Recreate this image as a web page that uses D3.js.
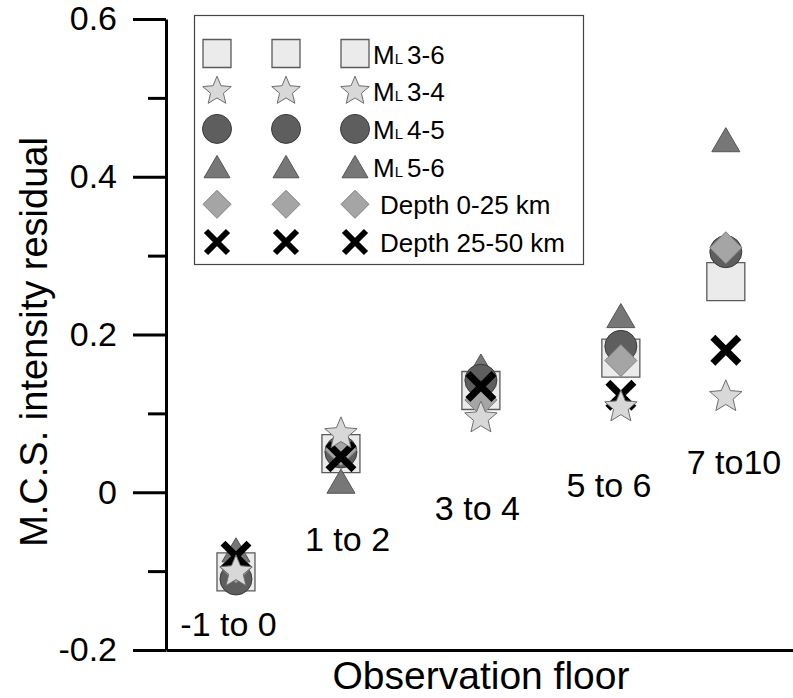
<!DOCTYPE html>
<html>
<head>
<meta charset="utf-8">
<script src="https://cdn.jsdelivr.net/npm/d3@7"></script>
<style>
  body { margin: 0; background: #fff; }
  text { font-family: "Liberation Sans", Arial, sans-serif; fill: #000; }
</style>
</head>
<body>
<div id="chart"></div>
<script>
// observation floor groups and where they sit on the x scale
const floors = ["-1 to 0", "1 to 2", "3 to 4", "5 to 6", "7 to10"];
const floorPos = [0.75, 1.5, 2.5, 3.5, 4.25];
const labelPos = [0.697, 1.547, 2.475, 3.415, 4.308];
const labelY = [-0.182, -0.075, -0.035, -0.006, 0.023];

// M.C.S. intensity residual per group
const ml36 = [-0.101, 0.049, 0.129, 0.170, 0.267];
const ml34 = [-0.101, 0.074, 0.094, 0.108, 0.121];
const ml45 = [-0.110, 0.051, 0.142, 0.185, 0.305];
const ml56 = [-0.073, 0.014, 0.160, 0.224, 0.447];
const depth025 = [-0.095, 0.054, 0.117, 0.167, 0.310];
const depth2550 = [-0.081, 0.045, 0.134, 0.123, 0.180];

const yTicks = [-0.2, 0, 0.2, 0.4, 0.6];
const yTickLabels = ["-0.2", "0", "0.2", "0.4", "0.6"];
const yMinor = [-0.1, 0.1, 0.3, 0.5];

const width = 793, height = 698;

const x = d3.scaleLinear().domain([0.25, 4.73]).range([166, 793]);
const y = d3.scaleLinear().domain([-0.2, 0.6]).range([650, 19]);

// symbol shapes, size = half width in px
const sq = { draw(c, r) { c.rect(-r, -r, 2 * r, 2 * r); } };
const circ = { draw(c, r) { c.moveTo(r, 0); c.arc(0, 0, r, 0, 2 * Math.PI); } };
const dia = { draw(c, r) { c.moveTo(0, -r); c.lineTo(r, 0); c.lineTo(0, r); c.lineTo(-r, 0); c.closePath(); } };
const tri = { draw(c, r) { const h = r * 0.86; c.moveTo(0, -h); c.lineTo(r, h); c.lineTo(-r, h); c.closePath(); } };
const star = { draw(c, r) {
  const ri = r * 0.45;
  for (let i = 0; i < 10; i++) {
    const a = -Math.PI / 2 + i * Math.PI / 5, rr = i % 2 ? ri : r;
    i ? c.lineTo(rr * Math.cos(a), rr * Math.sin(a)) : c.moveTo(rr * Math.cos(a), rr * Math.sin(a));
  }
  c.closePath();
} };
const cross = { draw(c, r) { c.moveTo(-r, -r); c.lineTo(r, r); c.moveTo(r, -r); c.lineTo(-r, r); } };

const series = [
  { key: "ml36", label: ["3-6"], vals: ml36, type: sq, r: 19, rl: 14, fill: "#ebebeb", stroke: "#5a5a5a", sw: 1.3 },
  { key: "ml34", label: ["3-4"], vals: ml34, type: star, r: 17, rl: 15, fill: "#d8d8d8", stroke: "#6e6e6e", sw: 1 },
  { key: "ml45", label: ["4-5"], vals: ml45, type: circ, r: 16, rl: 14.5, fill: "#5e5e5e", stroke: "#3a3a3a", sw: 1 },
  { key: "ml56", label: ["5-6"], vals: ml56, type: tri, r: 14, rl: 13, fill: "#777777", stroke: "#555", sw: 1 },
  { key: "d025", label: "Depth 0-25 km", vals: depth025, type: dia, r: 16, rl: 14, fill: "#a5a5a5", stroke: "#808080", sw: 1 },
  { key: "d2550", label: "Depth 25-50 km", vals: depth2550, type: cross, r: 13, rl: 11, fill: "none", stroke: "#000", sw: 7 }
];
const drawOrder = ["ml36", "ml56", "ml45", "d025", "d2550", "ml34"];

const svg = d3.select("#chart").append("svg")
  .attr("width", width).attr("height", height)
  .attr("viewBox", [0, 0, width, height]);

// y axis: minor then major ticks
svg.append("g")
  .attr("transform", `translate(${x.range()[0]},0)`)
  .call(d3.axisLeft(y).tickValues(yMinor).tickSize(18).tickFormat(""))
  .call(g => g.select(".domain").remove())
  .call(g => g.selectAll("line").attr("stroke", "#000").attr("stroke-width", 3));

svg.append("g")
  .attr("transform", `translate(${x.range()[0]},0)`)
  .call(d3.axisLeft(y).tickValues(yTicks).tickSize(33).tickSizeOuter(0).tickPadding(16)
    .tickFormat((d, i) => yTickLabels[i]))
  .call(g => g.select(".domain").attr("stroke", "#000").attr("stroke-width", 3))
  .call(g => g.selectAll("line").attr("stroke", "#000").attr("stroke-width", 3))
  .call(g => g.selectAll("text").attr("font-size", 34).attr("font-family", null).attr("fill", "#000"));

// x axis line, no ticks
svg.append("g")
  .attr("transform", `translate(0,${y.range()[0]})`)
  .call(d3.axisBottom(x).tickValues([]).tickSizeOuter(0))
  .call(g => g.select(".domain").attr("stroke", "#000").attr("stroke-width", 3));

// axis titles
svg.append("text")
  .attr("x", 481).attr("y", 689)
  .attr("text-anchor", "middle").attr("font-size", 39)
  .text("Observation floor");

svg.append("text")
  .attr("transform", `translate(47,342) rotate(-90)`)
  .attr("text-anchor", "middle").attr("font-size", 38)
  .text("M.C.S. intensity residual");

// group labels
svg.append("g").selectAll("text")
  .data(floors)
  .join("text")
  .attr("x", (d, i) => x(labelPos[i]))
  .attr("y", (d, i) => y(labelY[i]))
  .attr("text-anchor", "middle").attr("font-size", 34)
  .text(d => d);

// points
const byKey = Object.fromEntries(series.map(s => [s.key, s]));
drawOrder.forEach(k => {
  const s = byKey[k];
  svg.append("g").attr("class", "series-" + k)
    .selectAll("path")
    .data(s.vals)
    .join("path")
    .attr("transform", (d, i) => `translate(${x(floorPos[i])},${y(d)})`)
    .attr("d", d3.symbol(s.type, s.r))
    .attr("fill", s.fill)
    .attr("stroke", s.stroke)
    .attr("stroke-width", s.sw);
});

// legend
const legend = svg.append("g");
legend.append("rect")
  .attr("x", 194.5).attr("y", 15.5).attr("width", 389).attr("height", 249)
  .attr("fill", "#fff").attr("stroke", "#444").attr("stroke-width", 1.2);

const cols = [217, 286, 355];
const rowY = d3.scaleLinear().domain([0, 5]).range([53.5, 242]);
const legendOrder = ["ml36", "ml34", "ml45", "ml56", "d025", "d2550"];
legendOrder.forEach((k, i) => {
  const s = byKey[k];
  const cy = rowY(i);
  cols.forEach(cx => {
    legend.append("path")
      .attr("transform", `translate(${cx},${cy})`)
      .attr("d", d3.symbol(s.type, s.rl))
      .attr("fill", s.fill)
      .attr("stroke", s.stroke)
      .attr("stroke-width", k === "d2550" ? 6 : s.sw);
  });
  const t = legend.append("text")
    .attr("y", cy + 10)
    .attr("font-size", 26);
  if (Array.isArray(s.label)) {
    t.attr("x", 373);
    t.append("tspan").text("M");
    t.append("tspan").attr("font-size", 15).text("L");
    t.append("tspan").attr("dx", 4).text(s.label[0]);
  } else {
    t.attr("x", 380).text(s.label);
  }
});
</script>
</body>
</html>
